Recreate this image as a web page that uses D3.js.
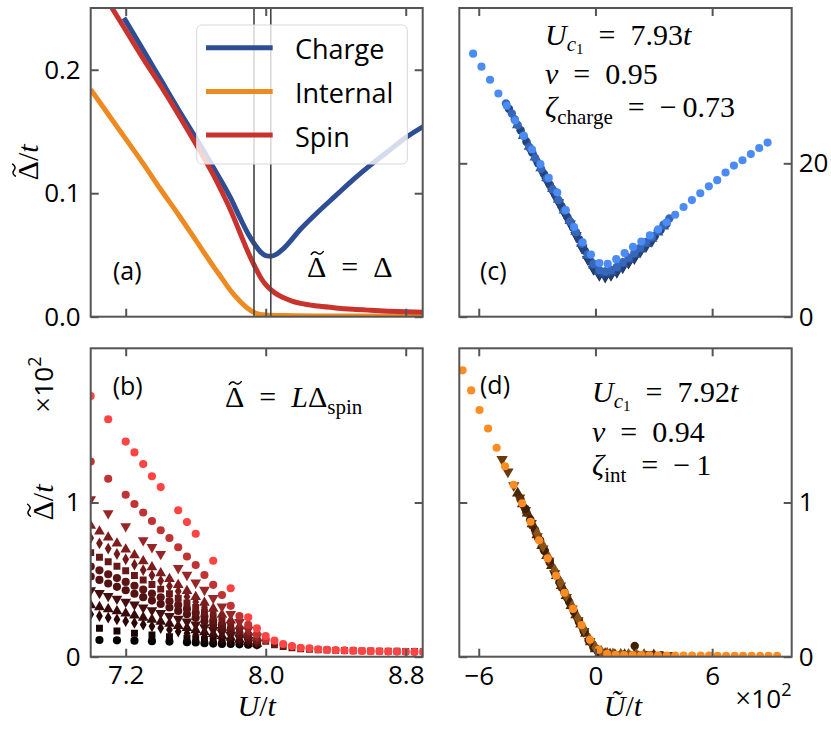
<!DOCTYPE html>
<html>
<head>
<meta charset="utf-8">
<script src="https://cdn.jsdelivr.net/npm/d3@7"></script>
<style>
  body { margin: 0; background: #fff; }
  .tick text { font-family: "Open Sans", sans-serif; font-size: 26px; fill: #000; }
  .tick line { stroke: #555; stroke-width: 2; }
  .lab { font-family: "Open Sans", sans-serif; font-size: 25px; fill: #000; }
  .math { font-family: "Liberation Serif", serif; font-size: 30px; fill: #000; }
</style>
</head>
<body>
<svg id="fig" width="831" height="735"></svg>
<script>
// ---------- (a) gaps vs U/t ----------
const uCharge = [7.19, 7.3, 7.4, 7.5, 7.6, 7.7, 7.8, 7.85, 7.9, 7.94, 7.97, 8.0, 8.03, 8.06, 8.1, 8.2, 8.3, 8.4, 8.5, 8.6, 8.7, 8.8, 8.9];
const gapCharge = [0.242, 0.216, 0.192, 0.168, 0.145, 0.121, 0.096, 0.081, 0.067, 0.058, 0.0525, 0.0495, 0.049, 0.0505, 0.055, 0.071, 0.085, 0.098, 0.111, 0.123, 0.134, 0.145, 0.154];
const uInternal = [7.0, 7.1, 7.2, 7.3, 7.4, 7.5, 7.6, 7.7, 7.75, 7.8, 7.85, 7.9, 7.94, 8.0, 8.1, 8.3, 8.5, 8.9];
const gapInternal = [0.184, 0.164, 0.144, 0.124, 0.103, 0.083, 0.062, 0.041, 0.031, 0.021, 0.013, 0.0065, 0.003, 0.0014, 0.0009, 0.0006, 0.0005, 0.0004];
const uSpin = [7.1, 7.2, 7.3, 7.4, 7.5, 7.6, 7.7, 7.75, 7.8, 7.85, 7.9, 7.94, 7.97, 8.0, 8.05, 8.1, 8.15, 8.2, 8.3, 8.4, 8.5, 8.6, 8.7, 8.8, 8.9];
const gapSpin = [0.255, 0.232, 0.209, 0.187, 0.164, 0.140, 0.115, 0.101, 0.086, 0.069, 0.052, 0.040, 0.032, 0.026, 0.0195, 0.0155, 0.0127, 0.0108, 0.0086, 0.0071, 0.006, 0.0052, 0.0045, 0.004, 0.0036];
const legendNames = ["Charge", "Internal", "Spin"];
const criticalU = [7.933, 8.029];

// ---------- (b) L * spin gap for each system size ----------
const uHalf = [7.05, 7.15, 7.25, 7.35, 7.45, 7.55, 7.6, 7.65, 7.7, 7.75, 7.8, 7.85, 7.9, 7.95];
const uFine = [7.0, 7.05, 7.1, 7.15, 7.2, 7.25, 7.3, 7.35, 7.4, 7.45, 7.5, 7.55, 7.6, 7.65, 7.7, 7.75, 7.8, 7.85, 7.9, 7.95];
const uMid = [7.0, 7.1, 7.2, 7.3, 7.35, 7.4, 7.5, 7.55, 7.6, 7.65, 7.7, 7.75, 7.8, 7.85, 7.9, 7.95];
const uHigh = [7.0, 7.1, 7.2, 7.25, 7.3, 7.35, 7.4, 7.45, 7.5, 7.55, 7.6, 7.65, 7.7, 7.75, 7.8, 7.85, 7.9, 7.95, 8.0];
const uTop = [7.0, 7.1, 7.2, 7.25, 7.3, 7.35, 7.4, 7.5, 7.55, 7.6, 7.7, 7.8, 7.9, 7.95, 8.0, 8.05, 8.1, 8.15, 8.2, 8.25, 8.3, 8.35, 8.4, 8.45, 8.5, 8.55, 8.6, 8.65, 8.7, 8.75, 8.8, 8.85, 8.9];
const uTail = [8.0, 8.05, 8.1, 8.15, 8.2, 8.25, 8.3, 8.35, 8.4, 8.45, 8.5, 8.55, 8.6, 8.65, 8.7, 8.75, 8.8, 8.85, 8.9];

const gapL0 = [0.108, 0.106, 0.104, 0.101, 0.098, 0.094, 0.092, 0.088, 0.085, 0.083, 0.082, 0.08, 0.078, 0.076];
const gapL1 = [0.184, 0.167, 0.152, 0.141, 0.13, 0.12, 0.115, 0.11, 0.105, 0.1, 0.095, 0.09, 0.085, 0.08];
const gapL2 = [0.275, 0.264, 0.253, 0.242, 0.230, 0.219, 0.208, 0.197, 0.186, 0.175, 0.163, 0.152, 0.141, 0.130, 0.122, 0.114, 0.106, 0.098, 0.090, 0.082];
const gapL3 = [0.335, 0.322, 0.308, 0.295, 0.281, 0.268, 0.254, 0.241, 0.227, 0.214, 0.200, 0.187, 0.173, 0.160, 0.148, 0.135, 0.123, 0.110, 0.098, 0.085];
const gapL4 = [0.430, 0.412, 0.393, 0.375, 0.356, 0.338, 0.319, 0.301, 0.282, 0.264, 0.245, 0.227, 0.208, 0.190, 0.173, 0.157, 0.140, 0.123, 0.107, 0.090];
const gapL5 = [0.520, 0.498, 0.475, 0.453, 0.431, 0.408, 0.386, 0.364, 0.342, 0.319, 0.297, 0.275, 0.252, 0.230, 0.208, 0.185, 0.163, 0.140, 0.118, 0.095];
const gapL6 = [0.585, 0.560, 0.535, 0.510, 0.485, 0.460, 0.435, 0.410, 0.385, 0.360, 0.335, 0.310, 0.285, 0.260, 0.233, 0.207, 0.180, 0.153, 0.127, 0.100];
const gapL7 = [0.675, 0.645, 0.616, 0.586, 0.557, 0.527, 0.497, 0.468, 0.438, 0.408, 0.379, 0.349, 0.320, 0.290, 0.259, 0.228, 0.198, 0.167, 0.136, 0.105];
const gapL7tail = [0.10, 0.078, 0.066, 0.058, 0.052, 0.048, 0.045, 0.043, 0.041, 0.040, 0.039, 0.038, 0.037, 0.036, 0.035, 0.035, 0.034, 0.034, 0.033];
const gapL8 = [0.770, 0.735, 0.701, 0.666, 0.632, 0.597, 0.562, 0.528, 0.493, 0.458, 0.424, 0.389, 0.355, 0.320, 0.285, 0.250, 0.215, 0.180, 0.145, 0.110];
const gapL9 = [0.850, 0.812, 0.773, 0.735, 0.696, 0.658, 0.619, 0.581, 0.542, 0.504, 0.465, 0.427, 0.388, 0.350, 0.312, 0.273, 0.235, 0.197, 0.158, 0.120];
const gapL10 = [1.02, 0.93, 0.845, 0.755, 0.71, 0.665, 0.575, 0.53, 0.48, 0.433, 0.38, 0.325, 0.277, 0.225, 0.175, 0.13];
const gapL11 = [1.266, 1.154, 1.05, 0.99, 0.935, 0.88, 0.82, 0.77, 0.71, 0.65, 0.595, 0.53, 0.466, 0.40, 0.33, 0.264, 0.206, 0.147, 0.11];
const gapL12 = [1.69, 1.54, 1.395, 1.325, 1.25, 1.17, 1.10, 0.95, 0.873, 0.797, 0.622, 0.444, 0.256, 0.184, 0.134, 0.104, 0.082, 0.069, 0.058, 0.055, 0.048, 0.045, 0.043, 0.041, 0.039, 0.037, 0.036, 0.035, 0.034, 0.033, 0.032, 0.031, 0.030];

// ---------- (c) charge collapse ----------
const xcLight = [-6.29, -5.86, -5.42, -4.99, -4.56, -4.13, -3.69, -3.26, -2.83, -2.40, -1.96, -1.53, -1.10, -0.66, -0.23, 0.20, 0.63, 1.07, 1.50, 1.93, 2.36, 2.80, 3.23, 3.66, 4.10, 4.53, 4.96, 5.39, 5.83, 6.26, 6.69, 7.12, 7.56, 7.99, 8.42, 8.85];
const ycLight = [34.3, 32.6, 30.9, 29.1, 27.5, 25.6, 23.6, 21.8, 19.9, 18.1, 16.2, 13.9, 11.7, 9.7, 8.1, 7.0, 6.9, 7.5, 8.3, 9.1, 9.8, 10.6, 11.4, 12.3, 13.3, 14.3, 15.2, 16.1, 17.0, 17.8, 18.8, 19.7, 20.4, 21.2, 22.0, 22.7];
const xc1 = [-2.5, -2.2, -1.9, -1.6, -1.3, -1.0, -0.7, -0.4, -0.1, 0.2, 0.5, 0.8, 1.1, 1.4, 1.7, 2.0];
const yc1 = [17.7, 16.3, 14.9, 13.5, 12.1, 10.6, 9.0, 7.5, 6.2, 5.4, 5.2, 5.4, 5.8, 6.4, 7.0, 7.6];
const xc2 = [-3.4, -3.1, -2.8, -2.5, -2.2, -1.9, -1.6, -1.3, -1.0, -0.7, -0.4, -0.1, 0.2, 0.5, 0.8, 1.1, 1.4, 1.7, 2.0, 2.3, 2.6, 2.9];
const yc2 = [22.0, 20.6, 19.2, 17.9, 16.5, 15.1, 13.7, 12.3, 10.8, 9.2, 7.7, 6.4, 5.6, 5.4, 5.6, 6.0, 6.6, 7.2, 7.8, 8.5, 9.2, 9.9];
const xc3 = [-4.0, -3.7, -3.4, -3.1, -2.8, -2.5, -2.2, -1.9, -1.6, -1.3, -1.0, -0.7, -0.4, -0.1, 0.2, 0.5, 0.8, 1.1, 1.4, 1.7, 2.0, 2.3, 2.6, 2.9, 3.2, 3.5];
const yc3 = [25.0, 23.6, 22.2, 20.8, 19.4, 18.1, 16.7, 15.3, 13.9, 12.5, 11.1, 9.5, 8.0, 6.7, 5.9, 5.7, 5.9, 6.3, 6.9, 7.5, 8.1, 8.8, 9.5, 10.2, 11.0, 11.8];
const xc4 = [-4.6, -4.3, -4.0, -3.7, -3.4, -3.1, -2.8, -2.5, -2.2, -1.9, -1.6, -1.3, -1.0, -0.7, -0.4, -0.1, 0.2, 0.5, 0.8, 1.1, 1.4, 1.7, 2.0, 2.3, 2.6, 2.9, 3.2, 3.5, 3.8];
const yc4 = [27.8, 26.5, 25.0, 23.6, 22.1, 20.7, 19.3, 18.0, 16.6, 15.2, 13.8, 12.4, 11.0, 9.5, 8.1, 6.9, 6.1, 5.9, 6.1, 6.5, 7.1, 7.7, 8.3, 9.0, 9.7, 10.4, 11.2, 12.0, 12.8];
const xc5 = [-4.45, -4.15, -3.85, -3.55, -3.25, -2.95, -2.65, -2.35, -2.05, -1.75, -1.45, -1.15, -0.85, -0.55, -0.25, 0.05, 0.35, 0.65, 0.95, 1.25, 1.55, 1.85, 2.15, 2.45, 2.75, 3.05, 3.35, 3.65];
const yc5 = [27.1, 25.7, 24.3, 22.8, 21.4, 20.0, 18.6, 17.2, 15.8, 14.4, 13.0, 11.6, 10.1, 8.6, 7.2, 6.1, 5.6, 5.6, 5.9, 6.4, 7.0, 7.6, 8.3, 9.0, 9.7, 10.5, 11.3, 12.1];

// ---------- (d) internal collapse ----------
const xdLight = [-6.83, -6.39, -5.96, -5.52, -5.08, -4.65, -4.21, -3.77, -3.34, -2.90, -2.46, -2.02, -1.59, -1.15, -0.71, -0.28, 0.16, 0.60, 1.04, 1.47, 1.91, 2.35, 2.78, 3.22, 3.66, 4.10, 4.53, 4.97, 5.41, 5.84, 6.28, 6.72, 7.16, 7.59, 8.03, 8.47, 8.90, 9.34];
const ydLight = [1.857, 1.727, 1.60, 1.48, 1.355, 1.235, 1.115, 0.995, 0.875, 0.755, 0.638, 0.525, 0.415, 0.31, 0.205, 0.11, 0.045, 0.018, 0.012, 0.011, 0.010, 0.010, 0.009, 0.009, 0.008, 0.008, 0.008, 0.007, 0.007, 0.007, 0.006, 0.006, 0.006, 0.006, 0.005, 0.005, 0.005, 0.005];
const xd1 = [-4.8, -4.5, -4.2, -3.9, -3.6, -3.3, -3.0, -2.7, -2.4, -2.1, -1.8, -1.5, -1.2, -0.9, -0.6, -0.3, 0.0, 0.3, 0.6, 0.9, 1.2, 1.5, 1.8, 2.1, 2.4, 2.7, 3.0, 3.3, 3.6, 3.9];
const yd1 = [1.28, 1.20, 1.11, 1.03, 0.95, 0.865, 0.78, 0.70, 0.62, 0.54, 0.46, 0.385, 0.31, 0.235, 0.165, 0.10, 0.05, 0.025, 0.017, 0.014, 0.013, 0.012, 0.012, 0.011, 0.011, 0.010, 0.010, 0.010, 0.009, 0.009];
const xd2 = [-4.0, -3.75, -3.5, -3.25, -3.0, -2.75, -2.5, -2.25, -2.0, -1.75, -1.5, -1.25, -1.0, -0.75, -0.5, -0.25, 0.0, 0.25, 0.5, 0.75, 1.0, 1.5, 2.0, 2.5, 3.0];
const yd2 = [1.06, 0.99, 0.93, 0.86, 0.79, 0.72, 0.655, 0.59, 0.525, 0.46, 0.395, 0.33, 0.27, 0.21, 0.15, 0.095, 0.05, 0.028, 0.018, 0.015, 0.013, 0.012, 0.011, 0.011, 0.010];
const xd3 = [-3.6, -3.35, -3.1, -2.85, -2.6, -2.35, -2.1, -1.85, -1.6, -1.35, -1.1, -0.85, -0.6, -0.35, -0.1, 0.15, 0.4, 0.7, 1.0, 1.4, 2.02, 2.4, 2.8];
const yd3 = [0.96, 0.89, 0.82, 0.755, 0.685, 0.62, 0.55, 0.485, 0.42, 0.355, 0.29, 0.225, 0.165, 0.105, 0.06, 0.03, 0.018, 0.014, 0.012, 0.011, 0.07, 0.010, 0.010];
const xd4 = [-3.0, -2.7, -2.4, -2.1, -1.8, -1.5, -1.2, -0.9, -0.6, -0.3, 0.0, 0.3, 0.6, 0.9, 1.3, 1.7, 2.1, 2.5];
const yd4 = [0.80, 0.72, 0.64, 0.56, 0.48, 0.40, 0.325, 0.25, 0.18, 0.11, 0.06, 0.03, 0.019, 0.015, 0.013, 0.012, 0.011, 0.010];
const xd5 = [-3.85, -3.55, -3.25, -2.95, -2.65, -2.35, -2.05, -1.75, -1.45, -1.15, -0.85, -0.55, -0.25, 0.05, 0.35, 0.65, 1.0, 1.4, 1.8, 2.2, 2.6, 3.0, 3.4];
const yd5 = [1.02, 0.935, 0.85, 0.77, 0.69, 0.61, 0.53, 0.45, 0.38, 0.31, 0.235, 0.165, 0.10, 0.05, 0.025, 0.016, 0.013, 0.012, 0.011, 0.011, 0.010, 0.010, 0.009];

// tick values
const ticksU = [7.2, 8.0, 8.8];
const ticksGapA = [0, 0.1, 0.2];
const ticksGapB = [0, 1];
const ticksScaled = [-6, 0, 6];
const ticksCharge = [0, 20];
const ticksInternal = [0, 1];

const svg = d3.select("#fig");

// scales (pixel ranges = panel frames)
const xU = d3.scaleLinear().domain([7.0, 8.897]).range([90.7, 422.7]);
const yA = d3.scaleLinear().domain([0, 0.25]).range([316.7, 8]);
const yB = d3.scaleLinear().domain([0, 2.0]).range([656.7, 348.3]);
const xS = d3.scaleLinear().domain([-7.0, 10.09]).range([459.3, 791.7]);
const yC = d3.scaleLinear().domain([0, 40.25]).range([316.7, 8]);
const yD = d3.scaleLinear().domain([0, 2.0]).range([656.7, 348.3]);

const zip = (xs, ys) => xs.map((x, i) => [x, ys[i]]);

// clip each panel to its frame
function panel(id, x, y) {
  const [l, r] = x.range();
  const [b, t] = y.range();
  svg.append("clipPath").attr("id", "clip-" + id)
    .append("rect").attr("x", l).attr("y", t).attr("width", r - l).attr("height", b - t);
  return svg.append("g").attr("clip-path", `url(#clip-${id})`);
}

// inward ticks on all four sides, a closed grey frame
function frame(x, y, xt, yt, opts) {
  const [l, r] = x.range();
  const [b, t] = y.range();
  const sides = [
    [d3.axisBottom(x), `translate(0,${b})`, xt, opts.xLabels, opts.fx, opts.px || 9],
    [d3.axisTop(x), `translate(0,${t})`, xt, false],
    [d3.axisLeft(y), `translate(${l},0)`, yt, opts.yLabels === "left", opts.fy, 10],
    [d3.axisRight(y), `translate(${r},0)`, yt, opts.yLabels === "right", opts.fy, 7]
  ];
  sides.forEach(([ax, tr, tv, show, fmt, pad]) => {
    const g = svg.append("g").attr("transform", tr)
      .call(ax.tickValues(tv).tickSize(-8).tickPadding(pad || 9)
        .tickFormat(show ? fmt : () => ""));
    g.select(".domain").remove();
  });
  svg.append("rect").attr("x", l).attr("y", t).attr("width", r - l).attr("height", b - t)
    .attr("fill", "none").attr("stroke", "#555").attr("stroke-width", 2);
}

// text with italic parts and sub/superscripts; a tilde accent is stroked above its letter
function rich(parent, x, y, parts, size, anchor) {
  const t = parent.append("text").attr("class", "math").attr("x", x).attr("y", y)
    .style("font-size", size + "px").attr("text-anchor", anchor || "start");
  let cur = 0, idx = 0;
  const accents = [];
  parts.forEach(p => {
    const off = (p.sh || 0) * size;
    const s = t.append("tspan").attr("dy", off - cur).text(p.t);
    cur = off;
    if (p.it) s.style("font-style", "italic");
    if (p.sc) s.style("font-size", (p.sc * size) + "px");
    if (p.sans) s.style("font-family", "'Open Sans', sans-serif");
    if (p.tilde) accents.push(idx);
    idx += p.t.length;
  });
  accents.forEach(i => {
    const e = t.node().getExtentOfChar(i);
    const cx = e.x + e.width / 2 + size * 0.02, cy = y - size * 0.8;
    const a = size * 0.2, h = size * 0.045;
    parent.append("path")
      .attr("d", `M${cx - a},${cy + h} Q${cx - a / 2},${cy - 2 * h} ${cx},${cy} T${cx + a},${cy - h}`)
      .attr("fill", "none").attr("stroke", "#000").attr("stroke-width", size * 0.05)
      .attr("stroke-linecap", "round");
  });
  return t;
}

const symbols = {
  circle: d3.symbol().type(d3.symbolCircle),
  square: d3.symbol().type(d3.symbolSquare),
  diamond: d3.symbol().type(d3.symbolDiamond),
  up: d3.symbol().type(d3.symbolTriangle),
  down: d3.symbol().type(d3.symbolTriangle)
};

function scatter(g, x, y, pts, shape, color, size) {
  g.append("g").selectAll("path").data(pts).enter().append("path")
    .attr("d", symbols[shape].size(size)())
    .attr("transform", d => `translate(${x(d[0])},${y(d[1])})` + (shape === "down" ? " rotate(180)" : ""))
    .attr("fill", color);
}

// ================= (a) =================
const gA = panel("a", xU, yA);
const curvesA = [
  {name: legendNames[0], pts: zip(uCharge, gapCharge), color: "#2d4e94"},
  {name: legendNames[1], pts: zip(uInternal, gapInternal), color: "#ee8a22"},
  {name: legendNames[2], pts: zip(uSpin, gapSpin), color: "#c8332e"}
];
const line = d3.line().x(d => xU(d[0])).y(d => yA(d[1])).curve(d3.curveMonotoneX);
curvesA.forEach(c => {
  gA.append("path").attr("d", line(c.pts)).attr("fill", "none")
    .attr("stroke", c.color).attr("stroke-width", 5);
});
criticalU.forEach(u => {
  gA.append("line").attr("x1", xU(u)).attr("x2", xU(u)).attr("y1", yA(0)).attr("y2", yA(0.25))
    .attr("stroke", "#444").attr("stroke-width", 1.6);
});
// legend
const leg = svg.append("g");
leg.append("rect").attr("x", 196.7).attr("y", 25).attr("width", 210.6).attr("height", 139)
  .attr("rx", 5).attr("fill", "#fff").attr("fill-opacity", 0.8).attr("stroke", "#d9d9d9");
curvesA.forEach((c, i) => {
  const yy = 47.7 + i * 43.7;
  leg.append("line").attr("x1", 206).attr("x2", 272.7).attr("y1", yy).attr("y2", yy)
    .attr("stroke", c.color).attr("stroke-width", 5);
  leg.append("text").attr("class", "lab").style("font-size", "27px")
    .attr("x", 295).attr("y", yy + 11.5).text(c.name);
});
frame(xU, yA, ticksU, ticksGapA, {xLabels: false, yLabels: "left", fy: d3.format(".1f")});
svg.append("text").attr("class", "lab").attr("x", 113).attr("y", 280).text("(a)");
rich(svg, 307, 277, [{t: "\u0394", tilde: true}, {t: "\u2002=\u2002"}, {t: "\u0394"}], 30);

// ================= (b) =================
const gB = panel("b", xU, yB);
const seriesB = [
  [uHalf, gapL0, "circle", "#000000"],
  [uHalf, gapL1, "square", "#170303"],
  [uFine, gapL2, "diamond", "#2a0707"],
  [uFine, gapL3, "up", "#380b0b"],
  [uFine, gapL4, "down", "#460f0f"],
  [uFine, gapL5, "circle", "#521212"],
  [uFine, gapL6, "circle", "#5c1515"],
  [uFine.concat(uTail), gapL7.concat(gapL7tail), "square", "#681818"],
  [uFine, gapL8, "diamond", "#721a1a"],
  [uFine, gapL9, "up", "#7e1d1d"],
  [uMid, gapL10, "down", "#982626"],
  [uHigh, gapL11, "circle", "#c03333"],
  [uTop, gapL12, "circle", "#ff4444"]
];
const sizeB = {circle: 52, square: 48, diamond: 40, up: 50, down: 50};
seriesB.forEach(([u, v, shape, color]) => scatter(gB, xU, yB, zip(u, v), shape, color, sizeB[shape]));
frame(xU, yB, ticksU, ticksGapB, {xLabels: true, yLabels: "left", fx: d3.format(".1f"), fy: d3.format("d"), px: 9});
svg.append("text").attr("class", "lab").attr("x", 112.7).attr("y", 395).text("(b)");
rich(svg, 225, 407, [{t: "\u0394", tilde: true}, {t: "\u2002=\u2002"}, {t: "L", it: true}, {t: "\u0394"},
  {t: "spin", sc: 0.7, sh: 0.22}], 30);
rich(svg.append("g").attr("transform", "translate(38,162.4) rotate(-90)"), 0, 0,
  [{t: "\u0394", tilde: true}, {t: "/"}, {t: "t", it: true}], 30, "middle");
rich(svg.append("g").attr("transform", "translate(53,502.5) rotate(-90)"), 0, 0,
  [{t: "\u0394", tilde: true}, {t: "/"}, {t: "t", it: true}], 30, "middle");
rich(svg.append("g").attr("transform", "translate(53,413) rotate(-90)"), 0, 0,
  [{t: "\u00d7"}, {t: "10", sans: true, sc: 0.9}, {t: "2", sans: true, sc: 0.62, sh: -0.4}], 29);
rich(svg, 256.7, 716, [{t: "U", it: true}, {t: "/"}, {t: "t", it: true}], 30, "middle");

// ================= (c) =================
const gC = panel("c", xS, yC);
const seriesC = [
  [xc1, yc1, "down", "#1b2b50"],
  [xc2, yc2, "diamond", "#233f78"],
  [xc5, yc5, "circle", "#24447f"],
  [xc3, yc3, "up", "#2d5598"],
  [xc4, yc4, "circle", "#3667bb"],
  [xcLight, ycLight, "circle", "#4b8bf4"]
];
seriesC.forEach(([x, y, shape, color], i) =>
  scatter(gC, xS, yC, zip(x, y), shape, color, i === seriesC.length - 1 ? 52 : 56));
frame(xS, yC, ticksScaled, ticksCharge, {xLabels: false, yLabels: "right", fy: d3.format("d")});
svg.append("text").attr("class", "lab").attr("x", 480).attr("y", 280).text("(c)");
rich(svg, 545, 45, [{t: "U", it: true}, {t: "c", it: true, sc: 0.7, sh: 0.2}, {t: "1", sc: 0.5, sh: 0.3},
  {t: "\u2002=\u20027.93", sh: 0}, {t: "t", it: true}], 30);
rich(svg, 545, 84, [{t: "\u03bd", it: true}, {t: "\u2002=\u20020.95"}], 30);
rich(svg, 545, 117, [{t: "\u03b6", it: true}, {t: "charge", sc: 0.7, sh: 0.22},
  {t: "\u2002=\u2002\u2212\u20090.73", sh: 0}], 30);

// ================= (d) =================
const gD = panel("d", xS, yD);
const seriesD = [
  [xd1, yd1, "down", "#6b3a0c"],
  [xd2, yd2, "up", "#4e2806"],
  [xd5, yd5, "circle", "#5a2e08"],
  [xd3, yd3, "circle", "#3f2006"],
  [xd4, yd4, "diamond", "#8a5418"],
  [xdLight, ydLight, "circle", "#fd8c22"]
];
seriesD.forEach(([x, y, shape, color], i) =>
  scatter(gD, xS, yD, zip(x, y), shape, color, i === seriesD.length - 1 ? 52 : 56));
frame(xS, yD, ticksScaled, ticksInternal, {xLabels: true, yLabels: "right", fx: d3.format("d"), fy: d3.format("d"), px: 10});
svg.append("text").attr("class", "lab").attr("x", 480).attr("y", 394).text("(d)");
rich(svg, 592, 402, [{t: "U", it: true}, {t: "c", it: true, sc: 0.7, sh: 0.2}, {t: "1", sc: 0.5, sh: 0.3},
  {t: "\u2002=\u20027.92", sh: 0}, {t: "t", it: true}], 30);
rich(svg, 592, 442, [{t: "\u03bd", it: true}, {t: "\u2002=\u20020.94"}], 30);
rich(svg, 592, 475, [{t: "\u03b6", it: true}, {t: "int", sc: 0.7, sh: 0.22},
  {t: "\u2002=\u2002\u2212\u20091", sh: 0}], 30);
rich(svg, 623, 716, [{t: "\u0168", it: true}, {t: "/"}, {t: "t", it: true}], 30, "middle");
rich(svg, 735, 708, [{t: "\u00d7"}, {t: "10", sans: true, sc: 0.9}, {t: "2", sans: true, sc: 0.62, sh: -0.4}], 29);
</script>
</body>
</html>
